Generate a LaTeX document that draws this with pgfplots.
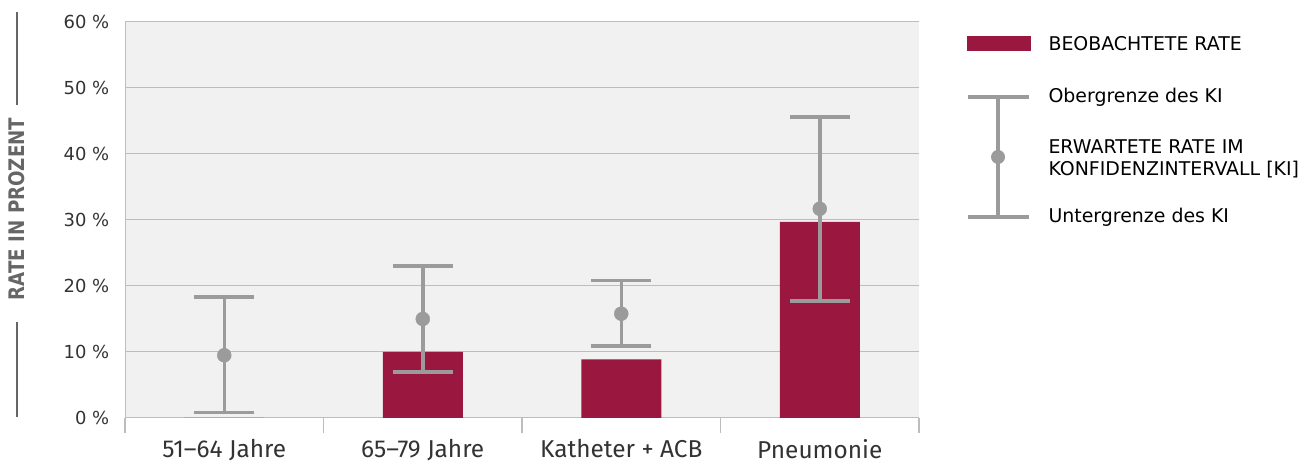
\documentclass[border=0pt]{standalone}
\usepackage{pgfplots}
\pgfplotsset{compat=1.18}
\usepackage{fontspec}
\setmainfont{DejaVu Sans}
\newfontfamily\xfont{Fira Sans}
\newfontfamily\condfont[FakeStretch=0.85]{DejaVu Sans}
\definecolor{barred}{HTML}{9A1840}
\definecolor{ebgray}{HTML}{9B9B9B}
\definecolor{gridgray}{HTML}{BDBDBD}
\definecolor{bggray}{HTML}{F1F1F1}
\definecolor{txt}{HTML}{333333}
\begin{document}
\begin{tikzpicture}[x=1bp,y=1bp]
\path[use as bounding box] (-125,-46) rectangle (1186,418);
\begin{axis}[
  at={(0,0)}, anchor=south west,
  scale only axis, width=794bp, height=396bp,
  xmin=-0.5, xmax=3.5, ymin=0, ymax=60,
  axis background/.style={fill=bggray},
  axis x line*=bottom, axis y line*=left,
  axis line style={gridgray, line width=1pt},
  ymajorgrids, grid style={gridgray, line width=1pt},
  ytick={0,10,20,30,40,50,60},
  yticklabels={0 \%,10 \%,20 \%,30 \%,40 \%,50 \%,60 \%},
  yticklabel style={font=\fontsize{18}{20}\selectfont, text=txt, xshift=-8bp},
  ytick style={draw=none},
  xtick={0,1,2,3},
  xticklabels={51–64 Jahre,65–79 Jahre,Katheter + ACB,Pneumonie},
  xticklabel style={font=\xfont\fontsize{24.5}{26}\selectfont, text=txt, yshift=-13.5bp},
  major x tick style={draw=none},
  minor xtick={-0.5,0.5,1.5,2.5,3.5},
  minor x tick style={gridgray, line width=1.5pt},
  tick align=outside, minor tick length=15bp,
  clip=false,
]
\addplot[ybar, bar width=80bp, bar shift=0pt, fill=barred, draw=none] coordinates {
  (0,0) (1,10.0) (2,8.9) (3,29.7)};
\addplot[only marks, mark=*, mark size=7bp, color=ebgray,
  error bars/.cd, y dir=both, y explicit,
  error bar style={ebgray, line width=3.5bp},
  error mark options={ebgray, rotate=90, mark size=30bp, line width=3.5bp}]
  table[x=x, y=y, y error plus=ep, y error minus=em] {
x y ep em
0 9.5 8.8 8.7
1 15.0 8.0 8.0
2 15.8 5.0 4.9
3 31.7 13.9 14.0
};
\end{axis}
% y axis label
\node[rotate=90, font=\condfont\bfseries\fontsize{21.5}{23}\selectfont, text=black!60] at (-108,209) {RATE IN PROZENT};
\draw[black!60, line width=1.8bp] (-108,406) -- (-108,313);
\draw[black!60, line width=1.8bp] (-108,96) -- (-108,1);
% legend
\fill[barred] (842,367) rectangle (906,382);
\node[anchor=west, font=\fontsize{19}{21}\selectfont, text=black] at (920,374) {BEOBACHTETE RATE};
\draw[ebgray, line width=3.5bp] (843,321) -- (904,321);
\draw[ebgray, line width=3.5bp] (843,201) -- (904,201);
\draw[ebgray, line width=3.5bp] (873,321) -- (873,201);
\fill[ebgray] (873,261) circle (7bp);
\node[anchor=west, font=\fontsize{19}{21}\selectfont, text=black] at (920,321) {Obergrenze des KI};
\node[anchor=west, align=left, font=\fontsize{19}{22.5}\selectfont, text=black] at (920,259) {ERWARTETE RATE IM\\KONFIDENZINTERVALL [KI]};
\node[anchor=west, font=\fontsize{19}{21}\selectfont, text=black] at (920,201) {Untergrenze des KI};
\end{tikzpicture}
\end{document}
